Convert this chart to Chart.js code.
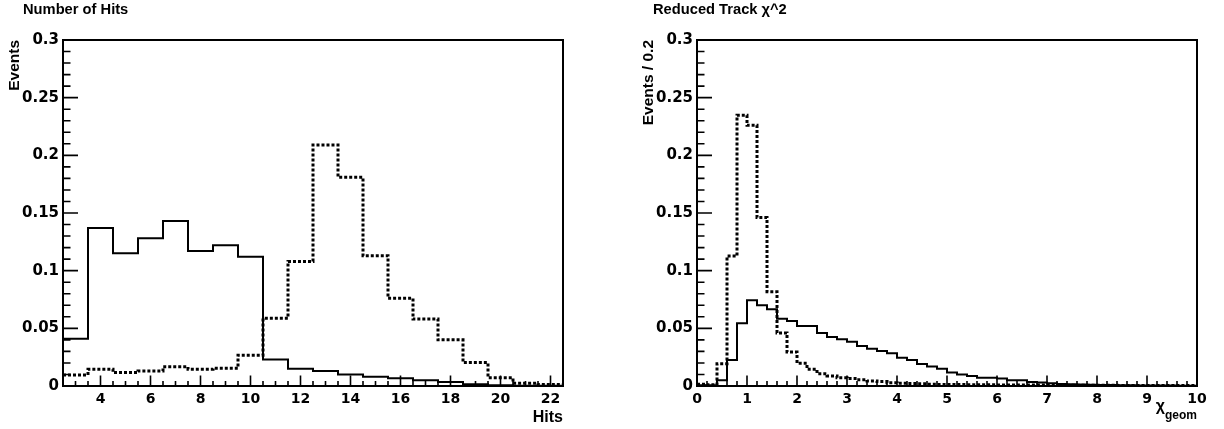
<!DOCTYPE html>
<html>
<head>
<meta charset="utf-8">
<script src="https://cdn.jsdelivr.net/npm/chart.js@4.4.0/dist/chart.umd.min.js"></script>
<style>
body { margin: 0; background: #fff; }
#wrap { position: relative; width: 1224px; height: 429px; }
.panel { position: absolute; top: 0; width: 612px; height: 429px; }
</style>
</head>
<body>
<div id="wrap">
  <div class="panel" style="left:0"><canvas id="hits"></canvas></div>
  <div class="panel" style="left:612px"><canvas id="chi"></canvas></div>
</div>
<script>
// Number of Hits, bins of width 1 centred on integers
var hitsBins = [3, 4, 5, 6, 7, 8, 9, 10, 11, 12, 13, 14, 15, 16, 17, 18, 19, 20, 21, 22];
var hitsSolid = [0.041, 0.137, 0.115, 0.128, 0.143, 0.117, 0.122, 0.112, 0.023, 0.015,
                 0.013, 0.010, 0.008, 0.0067, 0.005, 0.0035, 0.0015, 0.0006, 0.0003, 0.0002];
var hitsDashed = [0.0096, 0.0145, 0.0116, 0.013, 0.0166, 0.0145, 0.0154, 0.0267, 0.0587, 0.108,
                  0.209, 0.181, 0.113, 0.076, 0.058, 0.040, 0.0203, 0.0072, 0.0023, 0.0012];
var hitsXTicks = [4, 6, 8, 10, 12, 14, 16, 18, 20, 22];

// Reduced track chi^2, 50 bins of 0.2 from 0 to 10
var chiBinWidth = 0.2;
var chiSolid = [0.0006, 0.0006, 0.005, 0.0225, 0.0543, 0.0743, 0.070, 0.0665, 0.0584, 0.0564,
                0.052, 0.052, 0.046, 0.0425, 0.0405, 0.0384, 0.0347, 0.0324, 0.0303, 0.0283,
                0.0246, 0.0225, 0.019, 0.0168, 0.015, 0.0116, 0.010, 0.0087, 0.0072, 0.0072,
                0.0064, 0.005, 0.005, 0.0035, 0.003, 0.0023, 0.0017, 0.0015, 0.0012, 0.001,
                0.0009, 0.0008, 0.0007, 0.0006, 0.0005, 0.0005, 0.0004, 0.0004, 0.0003, 0.0003];
var chiDashed = [0.0015, 0.001, 0.0194, 0.1127, 0.2348, 0.226, 0.146, 0.0818, 0.046, 0.0295,
                 0.0197, 0.0145, 0.0107, 0.0087, 0.0072, 0.0066, 0.0055, 0.0043, 0.0038, 0.0029,
                 0.0024, 0.0021, 0.0019, 0.0016, 0.0014, 0.0013, 0.0012, 0.0011, 0.0010, 0.0010,
                 0.0009, 0.0009, 0.0008, 0.0008, 0.0008, 0.0007, 0.0007, 0.0007, 0.0006, 0.0006,
                 0.0006, 0.0006, 0.0005, 0.0005, 0.0005, 0.0005, 0.0005, 0.0004, 0.0004, 0.0004];
var chiXTicks = [0, 1, 2, 3, 4, 5, 6, 7, 8, 9, 10];

var yTicks = [0, 0.05, 0.1, 0.15, 0.2, 0.25, 0.3];

var FONT = '"Liberation Sans", Arial, sans-serif';
var TICKFONT = '"DejaVu Sans", sans-serif';

// turn bin low edges + contents into a step outline
function steps(lows, vals, hi) {
    var pts = lows.map(function (x, i) { return { x: x, y: vals[i] }; });
    pts.push({ x: hi, y: vals[vals.length - 1] });
    return pts;
}

var rootFrame = {
    id: 'rootFrame',
    afterDraw: function (chart, args, o) {
        var ctx = chart.ctx, a = chart.chartArea;
        var xs = chart.scales.x, ys = chart.scales.y;
        ctx.save();
        ctx.strokeStyle = '#000';
        ctx.lineWidth = 1.6;
        ctx.beginPath();
        // y ticks, major every 0.05, minor every 0.01
        for (var k = 0; k <= 30; k++) {
            var py = ys.getPixelForValue(k * 0.01);
            ctx.moveTo(a.left, py);
            ctx.lineTo(a.left + (k % 5 === 0 ? 15 : 7.5), py);
        }
        // x ticks
        var n = Math.round((xs.max - xs.min) / o.xMinor);
        for (var i = 0; i <= n; i++) {
            var v = o.xMinorStart + i * o.xMinor;
            if (v > xs.max + 1e-6) break;
            var major = o.xTicks.some(function (t) { return Math.abs(t - v) < 1e-6; });
            var px = xs.getPixelForValue(v);
            ctx.moveTo(px, a.bottom);
            ctx.lineTo(px, a.bottom - (major ? 10.5 : 5));
        }
        ctx.stroke();
        ctx.lineWidth = 2;
        ctx.strokeRect(a.left, a.top, a.right - a.left, a.bottom - a.top);

        // titles
        ctx.fillStyle = '#000';
        ctx.font = 'bold 14.7px ' + FONT;
        ctx.textAlign = 'left';
        ctx.textBaseline = 'alphabetic';
        ctx.fillText(o.title, o.titleX, 14);

        ctx.save();
        ctx.translate(o.yTitleX, a.top);
        ctx.rotate(-Math.PI / 2);
        ctx.textAlign = 'right';
        ctx.textBaseline = 'middle';
        ctx.font = 'bold 15.5px ' + FONT;
        ctx.fillText(o.yTitle, 0, 0);
        ctx.restore();

        ctx.textAlign = 'right';
        ctx.textBaseline = 'alphabetic';
        if (o.xSub) {
            ctx.font = 'bold 12px ' + FONT;
            var w = ctx.measureText(o.xSub).width;
            ctx.fillText(o.xSub, a.right, 419);
            ctx.font = 'bold 16px ' + FONT;
            ctx.fillText(o.xTitle, a.right - w, 411);
        } else {
            ctx.font = 'bold 16px ' + FONT;
            ctx.fillText(o.xTitle, a.right, 421.5);
        }
        ctx.restore();
    }
};

function makeChart(id, cfg) {
    return new Chart(document.getElementById(id), {
        type: 'line',
        data: {
            datasets: [{
                data: [{ x: cfg.min, y: 0 }, { x: cfg.max, y: 0 }],
                borderColor: '#e08080',
                borderWidth: 1,
                pointRadius: 0
            }, {
                data: cfg.solid,
                stepped: true,
                borderColor: '#000',
                borderWidth: 2,
                pointRadius: 0
            }, {
                data: cfg.dashed,
                stepped: true,
                borderColor: '#000',
                borderWidth: 3,
                borderDash: [3, 2],
                pointRadius: 0
            }]
        },
        options: {
            responsive: true,
            maintainAspectRatio: false,
            animation: false,
            devicePixelRatio: 1,
            layout: { padding: { top: 40, right: cfg.padRight, left: 0, bottom: 0 } },
            plugins: {
                legend: { display: false },
                tooltip: { enabled: false },
                rootFrame: cfg.frame
            },
            scales: {
                x: {
                    type: 'linear',
                    min: cfg.min,
                    max: cfg.max,
                    afterBuildTicks: function (s) { s.ticks = cfg.xTicks.map(function (v) { return { value: v }; }); },
                    afterFit: function (s) { s.height = 43; },
                    grid: { display: false, drawTicks: false },
                    border: { display: false },
                    ticks: {
                        color: '#000',
                        padding: 5,
                        maxRotation: 0,
                        autoSkip: false,
                        font: { family: TICKFONT, size: 14, weight: 'bold' },
                        callback: function (v) { return String(v); }
                    }
                },
                y: {
                    min: 0,
                    max: 0.3,
                    afterBuildTicks: function (s) { s.ticks = yTicks.map(function (v) { return { value: v }; }); },
                    afterFit: function (s) { s.width = cfg.yWidth; },
                    grid: { display: false, drawTicks: false },
                    border: { display: false },
                    ticks: {
                        color: '#000',
                        padding: 4,
                        autoSkip: false,
                        font: { family: TICKFONT, size: 15, weight: 'bold' },
                        callback: function (v) { return String(v); }
                    }
                }
            }
        },
        plugins: [rootFrame]
    });
}

makeChart('hits', {
    min: 2.5, max: 22.5, padRight: 49, yWidth: 63,
    xTicks: hitsXTicks,
    solid: steps(hitsBins.map(function (c) { return c - 0.5; }), hitsSolid, 22.5),
    dashed: steps(hitsBins.map(function (c) { return c - 0.5; }), hitsDashed, 22.5),
    frame: { title: 'Number of Hits', titleX: 23, yTitle: 'Events', yTitleX: 14.5,
             xTitle: 'Hits', xTicks: hitsXTicks, xMinor: 0.5, xMinorStart: 2.5 }
});

var chiLows = chiSolid.map(function (v, i) { return i * chiBinWidth; });
makeChart('chi', {
    min: 0, max: 10, padRight: 27, yWidth: 85,
    xTicks: chiXTicks,
    solid: steps(chiLows, chiSolid, 10),
    dashed: steps(chiLows, chiDashed, 10),
    frame: { title: 'Reduced Track \u03c7^2', titleX: 41, yTitle: 'Events / 0.2', yTitleX: 37,
             xTitle: '\u03c7', xSub: 'geom', xTicks: chiXTicks, xMinor: 0.2, xMinorStart: 0 }
});
</script>
</body>
</html>
